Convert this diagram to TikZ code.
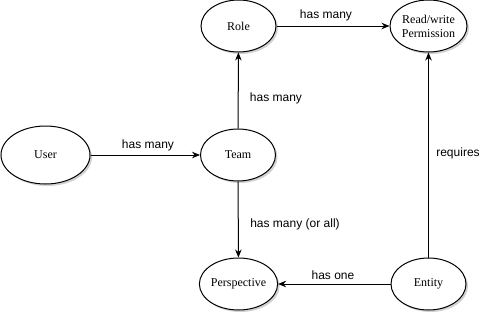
\documentclass[tikz,border=0pt]{standalone}
\usepackage{fontspec}
\setmainfont{Liberation Serif}
\newfontfamily\labelfont{Liberation Sans}
\usetikzlibrary{shapes.geometric,arrows.meta,shadows}
\begin{document}
\begin{tikzpicture}[x=1pt,y=-1pt,
  entity/.style={ellipse,draw=black,line width=1pt,fill=white,inner sep=0pt,
    minimum width=75pt,minimum height=52pt,align=center,
    font=\fontsize{12}{14}\selectfont,
    drop shadow={shadow xshift=2pt,shadow yshift=-2pt,opacity=0.25,fill=black!70}},
  rel/.style={draw=black,line width=1pt,-{Stealth[length=8pt,width=6.5pt]}},
  lab/.style={font=\labelfont\fontsize{12}{14}\selectfont,inner sep=0pt}]
  \useasboundingbox (0,0) rectangle (495,314);
  % entities
  \node[entity,minimum width=89pt,minimum height=58pt] (user) at (45.5,155) {User};
  \node[entity] (team) at (238,155) {Team};
  \node[entity] (role) at (238.5,26) {Role};
  \node[entity,minimum width=77pt] (perm) at (428.5,26) {Read/write\\Permission};
  \node[entity] (persp) at (238.5,284) {Perspective};
  \node[entity] (ent) at (428.5,284) {Entity};
  % relations
  \draw[rel] (user) -- (team);
  \draw[rel] (team) -- (role);
  \draw[rel] (role) -- (perm);
  \draw[rel] (team) -- (persp);
  \draw[rel] (ent) -- (persp);
  \draw[rel] (ent.north) -- (perm.south);
  % relation labels
  \node[lab] (l1) at (148,145) {has many};
  \node[lab] (l2) at (276,98) {has many};
  \node[lab] (l3) at (326,15) {has many};
  \node[lab] (l4) at (295,224) {has many (or all)};
  \node[lab] (l5) at (333,275) {has one};
  \node[lab] (l6) at (458,153) {requires};
\end{tikzpicture}
\end{document}
